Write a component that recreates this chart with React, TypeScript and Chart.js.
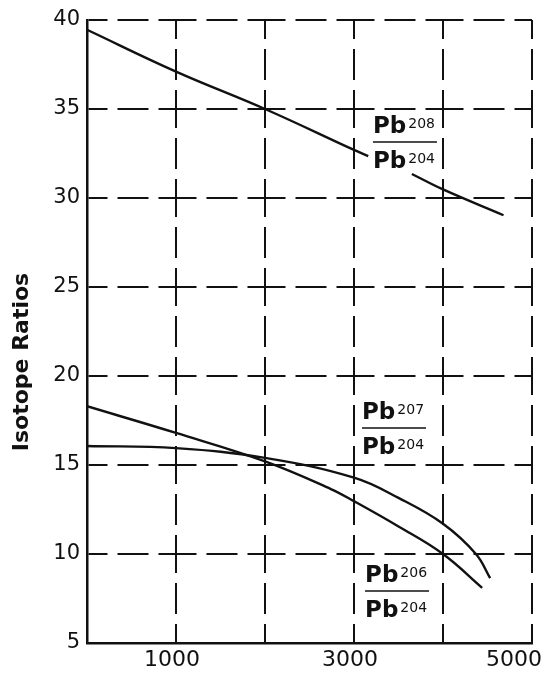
import React, { useEffect, useRef } from 'react';
import { Chart, registerables } from 'chart.js';

Chart.register(...registerables);

// Age (millions of years) and isotope ratios
const ageMa206 = [0, 1000, 2000, 2740, 3000, 3500, 4000, 4440];
const pb206 = [18.3, 16.8, 15.2, 13.65, 12.97, 11.55, 10.0, 8.1];

const ageMa207 = [0, 1000, 2000, 3000, 3500, 4000, 4370, 4530];
const pb207 = [16.07, 15.95, 15.4, 14.29, 13.15, 11.7, 10.0, 8.64];

// null = break in the line where the label sits
const ageMa208 = [0, 1000, 2000, 3000, 3160, 3400, 3650, 4000, 4680];
const pb208: (number | null)[] = [39.45, 37.1, 35.0, 32.7, 32.35, null, 31.35, 30.48, 29.03];

const xLabelled = [1000, 3000, 5000];
const yTitle = 'Isotope Ratios';

const ratioLabels = [
  { num: '208', den: '204', x: 3213, y: 33.15 },
  { num: '207', den: '204', x: 3090, y: 17.08 },
  { num: '206', den: '204', x: 3124, y: 7.92 },
];

const FONT = '"DejaVu Sans", "Liberation Sans", sans-serif';
const INK = '#111';

const toPts = (xs: number[], ys: (number | null)[]) => xs.map((x, i) => ({ x, y: ys[i] }));

const annotationPlugin = {
  id: 'ratioAnnotations',
  afterDatasetsDraw(chart: any) {
    const { ctx, scales } = chart;
    const xs = scales.x;
    const ys = scales.y;
    ctx.save();
    ctx.fillStyle = INK;
    ctx.strokeStyle = INK;
    ctx.textAlign = 'left';
    ctx.textBaseline = 'alphabetic';
    const drawIso = (px: number, baseY: number, mass: string) => {
      ctx.font = `bold 23px ${FONT}`;
      ctx.fillText('Pb', px, baseY);
      const w = ctx.measureText('Pb').width;
      ctx.font = `14px ${FONT}`;
      ctx.fillText(mass, px + w + 2, baseY - 5);
    };
    ratioLabels.forEach((l) => {
      const px = xs.getPixelForValue(l.x);
      const py = ys.getPixelForValue(l.y);
      drawIso(px, py - 9, l.num);
      drawIso(px, py + 26, l.den);
      ctx.lineWidth = 1.5;
      ctx.beginPath();
      ctx.moveTo(px, py);
      ctx.lineTo(px + 64, py);
      ctx.stroke();
    });
    ctx.restore();
  },
  afterDraw(chart: any) {
    const { ctx } = chart;
    ctx.save();
    ctx.fillStyle = INK;
    ctx.font = `bold 22px ${FONT}`;
    ctx.textAlign = 'center';
    ctx.textBaseline = 'middle';
    ctx.translate(22, 362);
    ctx.rotate(-Math.PI / 2);
    ctx.fillText(yTitle, 0, 0);
    ctx.restore();
  },
};

export default function App() {
  const ref = useRef<HTMLCanvasElement>(null);

  useEffect(() => {
    const gridDash = [38, 10, 31, 10];
    const chart = new Chart(ref.current as HTMLCanvasElement, {
      type: 'line',
      data: {
        datasets: [
          { label: 'Pb208/Pb204', data: toPts(ageMa208, pb208) as any },
          { label: 'Pb207/Pb204', data: toPts(ageMa207, pb207) as any },
          { label: 'Pb206/Pb204', data: toPts(ageMa206, pb206) as any },
        ],
      },
      options: {
        animation: false,
        responsive: false,
        events: [],
        spanGaps: false,
        layout: { padding: { top: 20, right: 18, bottom: 0, left: 0 } },
        plugins: { legend: { display: false }, tooltip: { enabled: false } },
        elements: {
          point: { radius: 0 },
          line: { borderWidth: 2.4, borderColor: INK, tension: 0.4, fill: false },
        },
        scales: {
          x: {
            type: 'linear',
            min: 0,
            max: 5000,
            afterFit(s: any) {
              s.height = 30;
              s.paddingLeft = 0;
              s.paddingRight = 0;
            },
            ticks: {
              stepSize: 1000,
              autoSkip: false,
              maxRotation: 0,
              padding: 4,
              labelOffset: -4,
              color: INK,
              font: { family: FONT, size: 22 },
              callback: (v: any) => {
                const n = Number(v);
                if (!xLabelled.includes(n)) return '';
                return n === 5000 ? String(n) + '\u2007\u2007' : String(n);
              },
            },
            grid: { color: INK, lineWidth: 2, drawTicks: false },
            border: { display: true, color: INK, width: 2.5, dash: gridDash, dashOffset: 19 },
          },
          y: {
            type: 'linear',
            min: 5,
            max: 40,
            afterFit(s: any) {
              s.width = 87;
            },
            ticks: {
              stepSize: 5,
              padding: 7,
              color: INK,
              font: { family: FONT, size: 21 },
            },
            grid: { color: INK, lineWidth: 2, drawTicks: false },
            border: { display: true, color: INK, width: 2.5, dash: gridDash, dashOffset: 19 },
          },
        },
      } as any,
      plugins: [annotationPlugin],
    });
    return () => chart.destroy();
  }, []);

  return (
    <div style={{ position: 'absolute', left: 0, top: 0, width: 550, height: 673, background: '#fff' }}>
      <canvas ref={ref} width={550} height={673} style={{ display: 'block' }} />
    </div>
  );
}
